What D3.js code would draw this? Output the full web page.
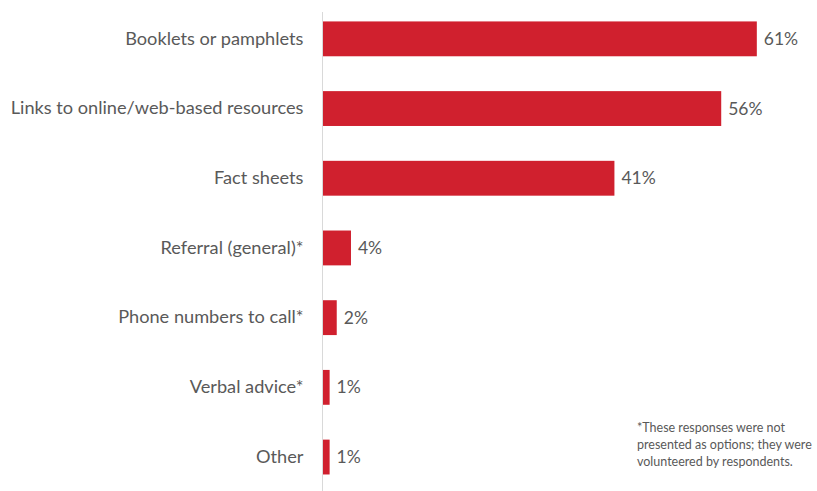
<!DOCTYPE html>
<html>
<head>
<meta charset="utf-8">
<script src="https://cdn.jsdelivr.net/npm/d3@7"></script>
<style>
  html, body { margin: 0; padding: 0; background: #ffffff; }
  svg { display: block; }
  text { font-family: Lato, "Open Sans", sans-serif; fill: #595959; }
</style>
</head>
<body>
<svg id="chart" width="817" height="491"></svg>
<script>
// Information formats respondents received (% of respondents)
const categories = [
  "Booklets or pamphlets",
  "Links to online/web-based resources",
  "Fact sheets",
  "Referral (general)*",
  "Phone numbers to call*",
  "Verbal advice*",
  "Other"
];
const values = [61, 56, 41, 4, 2, 1, 1];
const valueLabels = ["61%", "56%", "41%", "4%", "2%", "1%", "1%"];
const footnoteLines = [
  "*These responses were not",
  "presented as options; they were",
  "volunteered by respondents."
];

const svg = d3.select("#chart");
const width = 817, height = 491;
const margin = { top: 4, right: 0, bottom: 0, left: 322.5 };

const x = d3.scaleLinear()
  .domain([0, 100])
  .range([margin.left, margin.left + 712]);

const y = d3.scaleBand()
  .domain(categories)
  .range([margin.top, margin.top + 7 * 69.7])
  .paddingInner(0.5)
  .paddingOuter(0.25);

const barColor = "#d0202e";

// Bars
svg.append("g")
  .selectAll("rect")
  .data(categories)
  .join("rect")
  .attr("x", x(0))
  .attr("y", d => y(d))
  .attr("width", (d, i) => x(values[i]) - x(0))
  .attr("height", y.bandwidth())
  .attr("fill", barColor);

// Category axis (vertical rule with labels)
const yAxis = d3.axisLeft(y).tickSize(0).tickPadding(19);
const gy = svg.append("g")
  .attr("transform", `translate(${x(0)},0)`)
  .call(yAxis);
gy.select(".domain").remove();
gy.selectAll("text")
  .attr("font-size", 18.2)
  .attr("fill", "#595959")
  .style("font-family", "Lato, 'Open Sans', sans-serif");

svg.append("line")
  .attr("x1", x(0)).attr("x2", x(0))
  .attr("y1", 12).attr("y2", height)
  .attr("stroke", "#d9d9d9")
  .attr("stroke-width", 1);

// Value labels
svg.append("g")
  .selectAll("text")
  .data(categories)
  .join("text")
  .attr("x", (d, i) => x(values[i]) + 7)
  .attr("y", d => y(d) + y.bandwidth() / 2)
  .attr("dy", "0.35em")
  .attr("font-size", 17.5)
  .text((d, i) => valueLabels[i]);

// Footnote
svg.append("g")
  .attr("transform", "translate(637,428)")
  .selectAll("text")
  .data(footnoteLines)
  .join("text")
  .attr("x", 0)
  .attr("y", (d, i) => i * 17)
  .attr("dy", "0.35em")
  .attr("font-size", 12.5)
  .attr("fill", "#404040")
  .text(d => d);
</script>
</body>
</html>
